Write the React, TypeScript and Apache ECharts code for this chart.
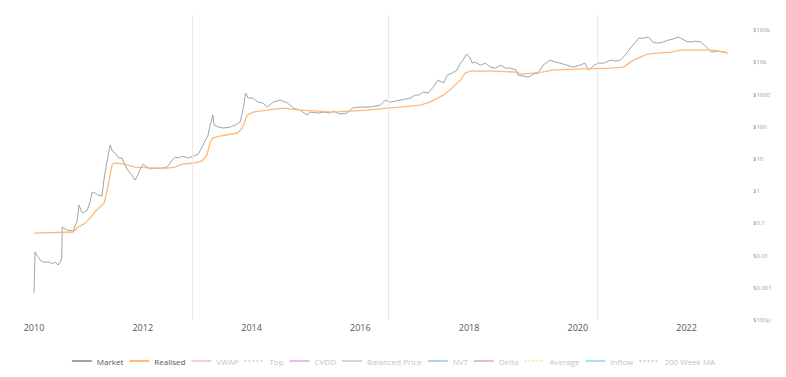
import React, { useEffect, useRef } from "react";
import * as echarts from "echarts";

const marketYears = [
  2010.0, 2010.02, 2010.05, 2010.13, 2010.17, 2010.29, 2010.33, 2010.39, 2010.44, 2010.48, 2010.51, 2010.52,
  2010.61, 2010.72, 2010.76, 2010.79, 2010.83, 2010.87, 2010.9, 2010.98, 2011.03, 2011.07, 2011.12, 2011.18,
  2011.25, 2011.29, 2011.34, 2011.36, 2011.4, 2011.44, 2011.49, 2011.56, 2011.62, 2011.67, 2011.75, 2011.8,
  2011.86, 2011.91, 2011.97, 2012.01, 2012.08, 2012.13, 2012.22, 2012.35, 2012.45, 2012.54, 2012.6, 2012.65,
  2012.74, 2012.83, 2012.93, 2013.02, 2013.11, 2013.2, 2013.24, 2013.29, 2013.31, 2013.39, 2013.48, 2013.61,
  2013.7, 2013.79, 2013.85, 2013.89, 2013.94, 2014.03, 2014.12, 2014.21, 2014.29, 2014.4, 2014.53, 2014.66,
  2014.77, 2014.89, 2015.02, 2015.08, 2015.21, 2015.32, 2015.45, 2015.5, 2015.63, 2015.76, 2015.85, 2016.0,
  2016.18, 2016.37, 2016.46, 2016.55, 2016.73, 2016.92, 2017.01, 2017.07, 2017.16, 2017.25, 2017.34, 2017.43,
  2017.53, 2017.6, 2017.69, 2017.78, 2017.84, 2017.89, 2017.95, 2018.01, 2018.06, 2018.11, 2018.21, 2018.3,
  2018.39, 2018.49, 2018.58, 2018.67, 2018.76, 2018.87, 2018.9, 2019.0, 2019.09, 2019.18, 2019.27, 2019.36,
  2019.49, 2019.58, 2019.67, 2019.8, 2019.91, 2020.04, 2020.13, 2020.19, 2020.26, 2020.36, 2020.47, 2020.6,
  2020.69, 2020.78, 2020.87, 2020.97, 2021.06, 2021.12, 2021.21, 2021.3, 2021.38, 2021.47, 2021.56, 2021.66,
  2021.75, 2021.84, 2021.89, 2021.99, 2022.07, 2022.17, 2022.26, 2022.35, 2022.45, 2022.58, 2022.67, 2022.73,
  2022.75,
];
const marketPrices = [
  0.0007, 0.013, 0.0105, 0.0068, 0.0063, 0.0063, 0.0055, 0.0063, 0.0051, 0.0063, 0.0084, 0.077,
  0.062, 0.058, 0.089, 0.11, 0.37, 0.24, 0.21, 0.26, 0.46, 0.94, 0.87, 0.76,
  0.7, 2.55, 8.0, 11.5, 27, 17.6, 15.2, 10.7, 10.7, 6.5, 3.9, 3.2,
  2.2, 3.2, 5.6, 6.9, 5.6, 4.9, 5.2, 5.2, 5.6, 9.2, 11.5, 10.7,
  12.3, 10.7, 12.3, 14.2, 27, 55, 113, 230, 113, 98, 91, 98,
  113, 140, 380, 1110, 777, 777, 583, 543, 408, 583, 673, 543,
  380, 330, 230, 286, 266, 286, 266, 307, 248, 266, 380, 408,
  408, 471, 673, 583, 673, 777, 962, 962, 1190, 1110, 1700, 2810,
  2270, 4020, 4630, 5740, 9460, 11700, 18000, 14600, 9460, 10200, 8200, 9460,
  7110, 6620, 8200, 6620, 6620, 5740, 4020, 3740, 3480, 4320, 4630, 8200,
  11700, 10200, 9460, 8200, 7110, 8200, 9460, 5740, 7110, 9460, 9460, 11700,
  10900, 11700, 16800, 27700, 42500, 56500, 56500, 60700, 42500, 39500, 42500, 49000,
  52600, 60700, 56500, 45600, 42500, 45600, 42500, 31900, 20800, 22300, 20800, 20800,
  19400,
];

const realisedYears = [
  2010.0, 2010.72, 2010.81, 2010.94, 2011.03, 2011.12, 2011.21, 2011.29, 2011.34, 2011.4, 2011.44, 2011.49,
  2011.67, 2011.86, 2012.22, 2012.46, 2012.59, 2012.72, 2012.96, 2013.09, 2013.18, 2013.24, 2013.29, 2013.42,
  2013.74, 2013.83, 2013.92, 2014.03, 2014.29, 2014.58, 2014.89, 2015.21, 2015.5, 2015.81, 2016.13, 2016.5,
  2016.73, 2017.1, 2017.28, 2017.42, 2017.53, 2017.69, 2017.84, 2017.93, 2018.02, 2018.42, 2018.86, 2018.97,
  2019.16, 2019.34, 2019.53, 2019.97, 2020.6, 2020.84, 2021.02, 2021.28, 2021.47, 2021.71, 2021.89, 2022.2,
  2022.49, 2022.68, 2022.75,
];
const realisedPrices = [
  0.05, 0.054, 0.077, 0.1, 0.147, 0.225, 0.32, 0.43, 0.94, 3.2, 6.9, 7.5,
  6.9, 5.6, 5.2, 5.2, 5.6, 6.9, 7.5, 8.6, 13.2, 33, 45, 51,
  64, 91, 230, 286, 330, 380, 330, 307, 286, 307, 330, 380,
  408, 471, 583, 777, 962, 1590, 2810, 4630, 5350, 5350, 4980, 4320,
  4630, 4980, 5740, 6170, 6620, 7110, 11700, 18000, 19400, 20800, 24000, 24000,
  24000, 20800, 19400,
];

const halvingYears = [2012.91, 2016.52, 2020.36];
const yTickLabels = ["$100μ", "$0.001", "$0.01", "$0.1", "$1", "$10", "$100", "$1000", "$10k", "$100k"];
const xTickYears = [2010, 2012, 2014, 2016, 2018, 2020, 2022];

const legendNames = ["Market", "Realised", "VWAP", "Top", "CVDD", "Balanced Price", "NVT", "Delta", "Average", "Inflow", "200 Week MA"];
const legendColors = ["#a3a3a3", "#ffb878", "#f6cccc", "#c4e6c4", "#f2b6f0", "#bfe4c8", "#a9d8ee", "#f0bcbc", "#eeeeb8", "#a8e2ee", "#c9d2e4"];
const legendDashes = ["solid", "solid", "solid", "dotted", "solid", "solid", "solid", "solid", "dotted", "solid", "dotted"];
const activeCount = 2;

export default function App() {
  const ref = useRef<HTMLDivElement>(null);
  useEffect(() => {
    document.body.style.margin = "0";
    if (!ref.current) return;
    const chart = echarts.init(ref.current, null, { renderer: "svg" });
    const toLog = (ys: number[], vs: number[]) => ys.map((y, i) => [y, Math.log10(vs[i])]);
    const series: any[] = legendNames.map((name, i) => {
      let data: any[] = [];
      if (i === 0) data = toLog(marketYears, marketPrices);
      if (i === 1) data = toLog(realisedYears, realisedPrices);
      const s: any = {
        name,
        type: "line",
        data,
        symbol: "none",
        showSymbol: false,
        color: legendColors[i],
        lineStyle: { width: i === 1 ? 1.3 : 1, color: legendColors[i], type: legendDashes[i] },
        z: i === 1 ? 3 : 2,
      };
      if (i === 0) {
        s.markLine = {
          silent: true,
          symbol: ["none", "none"],
          label: { show: false },
          lineStyle: { color: "#fbe0e2", width: 1, type: "solid" },
          data: halvingYears.map((x) => ({ xAxis: x })),
        };
      }
      return s;
    });
    chart.setOption({
      animation: false,
      backgroundColor: "#ffffff",
      textStyle: { fontFamily: "Open Sans" },
      grid: { left: 34, right: 45, top: 15, bottom: 57 },
      legend: {
        top: 352,
        left: "center",
        itemWidth: 20,
        itemHeight: 10,
        itemGap: 5,
        itemStyle: { opacity: 0 },
        data: legendNames.map((name, i) => ({
          name,
          textStyle: { color: i < activeCount ? "#555" : "#c4c4c4", fontSize: 8, fontFamily: "Open Sans" },
        })),
      },
      xAxis: {
        type: "value",
        min: 2010,
        max: 2023,
        interval: 2,
        axisLine: { show: false },
        axisTick: { show: false },
        splitLine: { show: false },
        axisLabel: {
          color: "#555",
          fontSize: 9,
          margin: 3,
          formatter: (v: number) => (xTickYears.indexOf(v) >= 0 ? String(v) : ""),
        },
      },
      yAxis: {
        type: "value",
        position: "right",
        min: -4,
        max: 5.47,
        interval: 1,
        axisLine: { show: false },
        axisTick: { show: false },
        splitLine: { show: false },
        axisLabel: {
          color: "#999",
          fontSize: 6,
          margin: 12,
          formatter: (v: number) => {
            const r = Math.round(v);
            return Math.abs(v - r) < 1e-6 && r >= -4 && r <= 5 ? yTickLabels[r + 4] : "";
          },
        },
      },
      series,
    });
    return () => chart.dispose();
  }, []);
  return <div ref={ref} style={{ width: 786, height: 377 }} />;
}
